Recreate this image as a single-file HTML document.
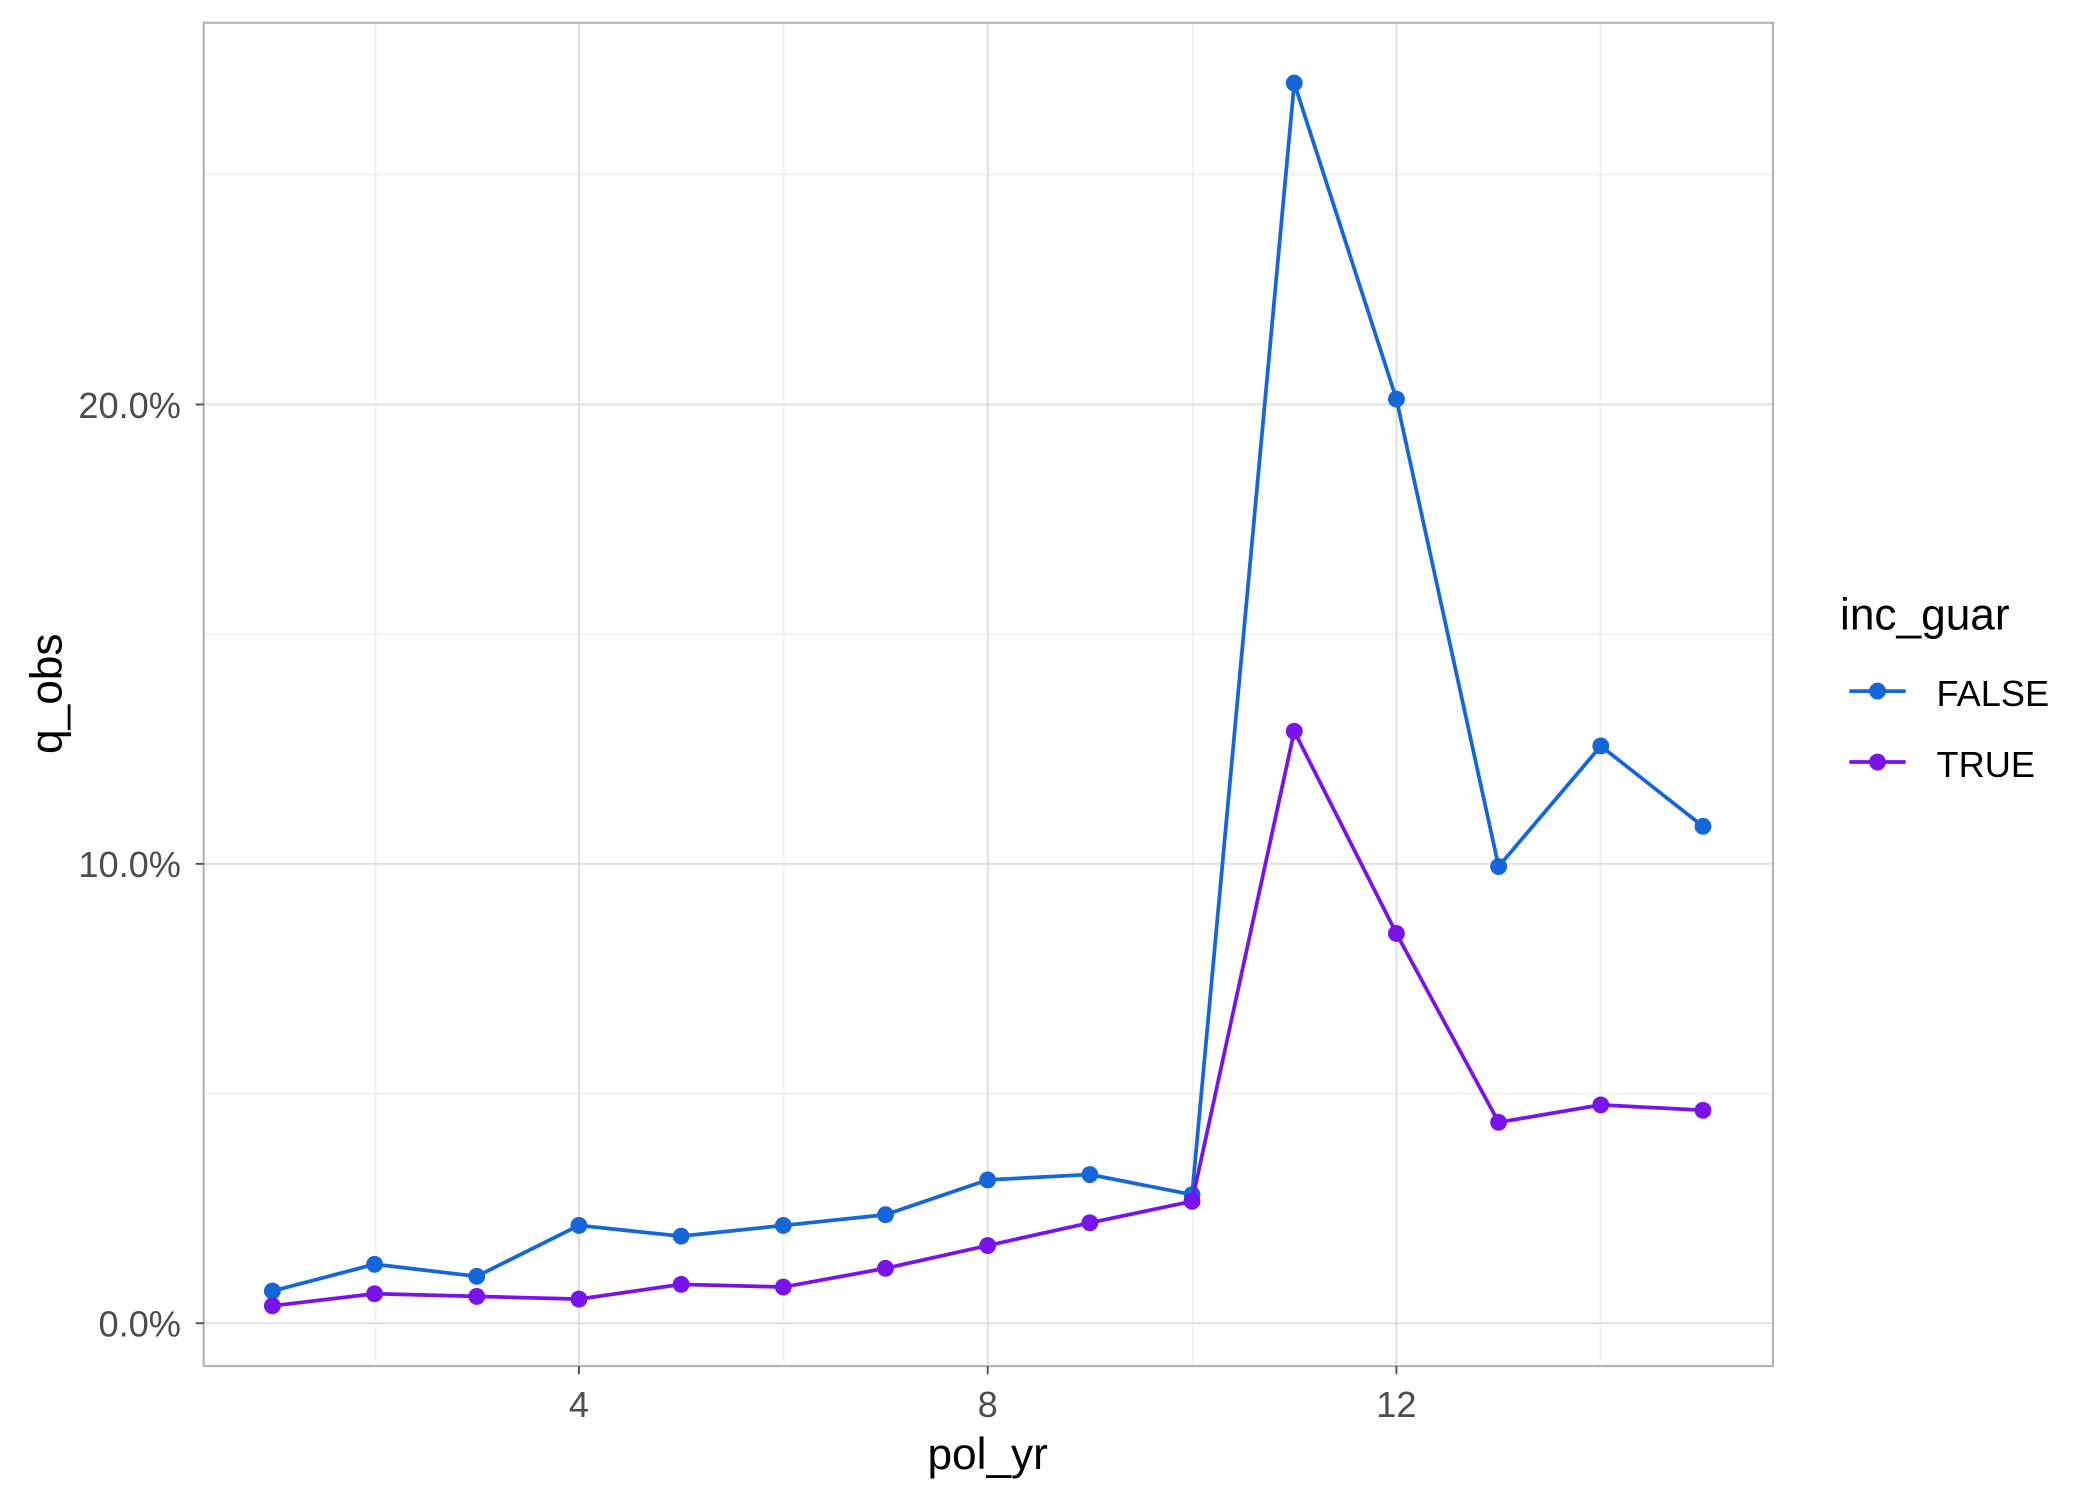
<!DOCTYPE html>
<html><head><meta charset="utf-8"><style>html,body{margin:0;padding:0;background:#fff}svg{display:block}</style></head>
<body>
<svg width="2100" height="1500" viewBox="0 0 1567 1120" preserveAspectRatio="none" xmlns="http://www.w3.org/2000/svg" font-family="Liberation Sans, Arial, sans-serif">
<rect width="1567" height="1120" fill="#fff"/>
<g stroke="#ebebeb" stroke-width="0.9">
<line x1="152" x2="1323" y1="816.5" y2="816.5"/><line x1="152" x2="1323" y1="473.5" y2="473.5"/><line x1="152" x2="1323" y1="130.5" y2="130.5"/>
<line x1="280.5" x2="280.5" y1="17" y2="1020"/><line x1="585" x2="585" y1="17" y2="1020"/><line x1="890" x2="890" y1="17" y2="1020"/><line x1="1194" x2="1194" y1="17" y2="1020"/>
</g>
<g stroke="#dedede" stroke-width="1.4">
<line x1="152" x2="1323" y1="988" y2="988"/><line x1="152" x2="1323" y1="645" y2="645"/><line x1="152" x2="1323" y1="302" y2="302"/>
<line x1="432" x2="432" y1="17" y2="1020"/><line x1="737" x2="737" y1="17" y2="1020"/><line x1="1042" x2="1042" y1="17" y2="1020"/>
</g>
<rect x="152" y="17" width="1171" height="1003" fill="none" stroke="#b3b3b3" stroke-width="1.6"/>
<g fill="#4d4d4d" font-size="27" text-anchor="end">
<text x="135" y="998">0.0%</text><text x="135" y="655">10.0%</text><text x="135" y="312">20.0%</text>
</g>
<g stroke="#4d4d4d" stroke-width="1.4"><line x1="146" x2="152" y1="988" y2="988"/><line x1="146" x2="152" y1="645" y2="645"/><line x1="146" x2="152" y1="302" y2="302"/>
<line x1="432" x2="432" y1="1020" y2="1026"/><line x1="737" x2="737" y1="1020" y2="1026"/><line x1="1042" x2="1042" y1="1020" y2="1026"/></g>
<g fill="#4d4d4d" font-size="27" text-anchor="middle">
<text x="432" y="1058">4</text><text x="737" y="1058">8</text><text x="1042" y="1058">12</text>
</g>
<text x="737" y="1097" font-size="33" text-anchor="middle">pol_yr</text>
<text transform="translate(46,518) rotate(-90)" font-size="33" text-anchor="middle">q_obs</text>
<polyline fill="none" stroke="#1567d9" stroke-width="2.8" points="203.25,964 279.5,944 355.75,953 432,915 508.25,923 584.5,915 660.75,907 737,881 813.25,877 889.5,892 965.75,62 1042,298 1118.25,647 1194.5,557 1270.75,617"/>
<g fill="#1567d9"><circle cx="203.25" cy="964" r="6.3"/><circle cx="279.5" cy="944" r="6.3"/><circle cx="355.75" cy="953" r="6.3"/><circle cx="432" cy="915" r="6.3"/><circle cx="508.25" cy="923" r="6.3"/><circle cx="584.5" cy="915" r="6.3"/><circle cx="660.75" cy="907" r="6.3"/><circle cx="737" cy="881" r="6.3"/><circle cx="813.25" cy="877" r="6.3"/><circle cx="889.5" cy="892" r="6.3"/><circle cx="965.75" cy="62" r="6.3"/><circle cx="1042" cy="298" r="6.3"/><circle cx="1118.25" cy="647" r="6.3"/><circle cx="1194.5" cy="557" r="6.3"/><circle cx="1270.75" cy="617" r="6.3"/></g>
<polyline fill="none" stroke="#7a12ea" stroke-width="2.8" points="203.25,975 279.5,966 355.75,968 432,970 508.25,959 584.5,961 660.75,947 737,930 813.25,913 889.5,897 965.75,546 1042,697 1118.25,838 1194.5,825 1270.75,829"/>
<g fill="#7a12ea"><circle cx="203.25" cy="975" r="6.3"/><circle cx="279.5" cy="966" r="6.3"/><circle cx="355.75" cy="968" r="6.3"/><circle cx="432" cy="970" r="6.3"/><circle cx="508.25" cy="959" r="6.3"/><circle cx="584.5" cy="961" r="6.3"/><circle cx="660.75" cy="947" r="6.3"/><circle cx="737" cy="930" r="6.3"/><circle cx="813.25" cy="913" r="6.3"/><circle cx="889.5" cy="897" r="6.3"/><circle cx="965.75" cy="546" r="6.3"/><circle cx="1042" cy="697" r="6.3"/><circle cx="1118.25" cy="838" r="6.3"/><circle cx="1194.5" cy="825" r="6.3"/><circle cx="1270.75" cy="829" r="6.3"/></g>
<text x="1373" y="470" font-size="33">inc_guar</text>
<line x1="1380" x2="1422" y1="516" y2="516" stroke="#1567d9" stroke-width="2.8"/><circle cx="1401" cy="516" r="6.3" fill="#1567d9"/>
<line x1="1380" x2="1422" y1="569" y2="569" stroke="#7a12ea" stroke-width="2.8"/><circle cx="1401" cy="569" r="6.3" fill="#7a12ea"/>
<text x="1445" y="527" font-size="27">FALSE</text>
<text x="1445" y="580" font-size="27">TRUE</text>
</svg>
</body></html>
